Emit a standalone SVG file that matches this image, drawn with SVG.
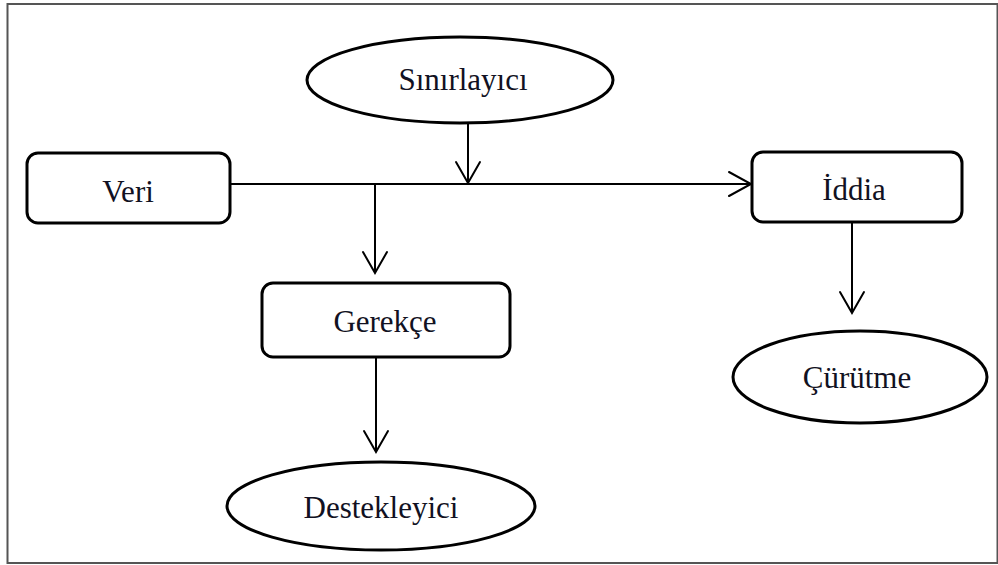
<svg xmlns="http://www.w3.org/2000/svg" width="998" height="565" viewBox="0 0 998 565">
  <style>
    .box { fill: #ffffff; stroke: #000000; stroke-width: 3; }
    .oval { fill: #ffffff; stroke: #000000; stroke-width: 3; }
    .lbl { font-family: "Liberation Serif", "Times New Roman", serif; font-size: 31px; fill: #111122; text-anchor: middle; }
    .wire { fill: none; stroke: #000000; stroke-width: 2; }
    .head { fill: none; stroke: #000000; stroke-width: 2; stroke-linecap: round; stroke-linejoin: miter; }
  </style>

  <!-- outer frame -->
  <rect x="7.5" y="4" width="990" height="559" fill="#ffffff" stroke="#555555" stroke-width="2"/>

  <!-- connectors -->
  <g id="connectors">
    <!-- Veri to İddia -->
    <line class="wire" x1="230" y1="184" x2="751" y2="184"/>
    <polyline class="head" points="729,172 751,184 729,196"/>
    <!-- Sınırlayıcı down to the main line -->
    <line class="wire" x1="468" y1="123" x2="468" y2="183"/>
    <polyline class="head" points="456,162 468,183 480,162"/>
    <!-- branch down to Gerekçe -->
    <line class="wire" x1="375" y1="184" x2="375" y2="273"/>
    <polyline class="head" points="363,252 375,273 387,252"/>
    <!-- Gerekçe to Destekleyici -->
    <line class="wire" x1="376" y1="357" x2="376" y2="452"/>
    <polyline class="head" points="364,431 376,452 388,431"/>
    <!-- İddia to Çürütme -->
    <line class="wire" x1="852" y1="222" x2="852" y2="313"/>
    <polyline class="head" points="840,292 852,313 864,292"/>
  </g>

  <g id="node-sinirlayici">
    <ellipse class="oval" cx="460" cy="80" rx="153" ry="43"/>
    <text class="lbl" x="463" y="90">Sınırlayıcı</text>
  </g>

  <g id="node-veri">
    <rect class="box" x="27" y="153" width="203" height="70" rx="11"/>
    <text class="lbl" x="128" y="202">Veri</text>
  </g>

  <g id="node-iddia">
    <rect class="box" x="752" y="152" width="210" height="70" rx="11"/>
    <text class="lbl" x="854" y="200">İddia</text>
  </g>

  <g id="node-gerekce">
    <rect class="box" x="262" y="283" width="248" height="74" rx="11"/>
    <text class="lbl" x="385" y="332">Gerekçe</text>
  </g>

  <g id="node-curutme">
    <ellipse class="oval" cx="860" cy="377" rx="127" ry="46"/>
    <text class="lbl" x="857" y="388">Çürütme</text>
  </g>

  <g id="node-destekleyici">
    <ellipse class="oval" cx="381" cy="506" rx="154" ry="44"/>
    <text class="lbl" x="381" y="518">Destekleyici</text>
  </g>
</svg>
